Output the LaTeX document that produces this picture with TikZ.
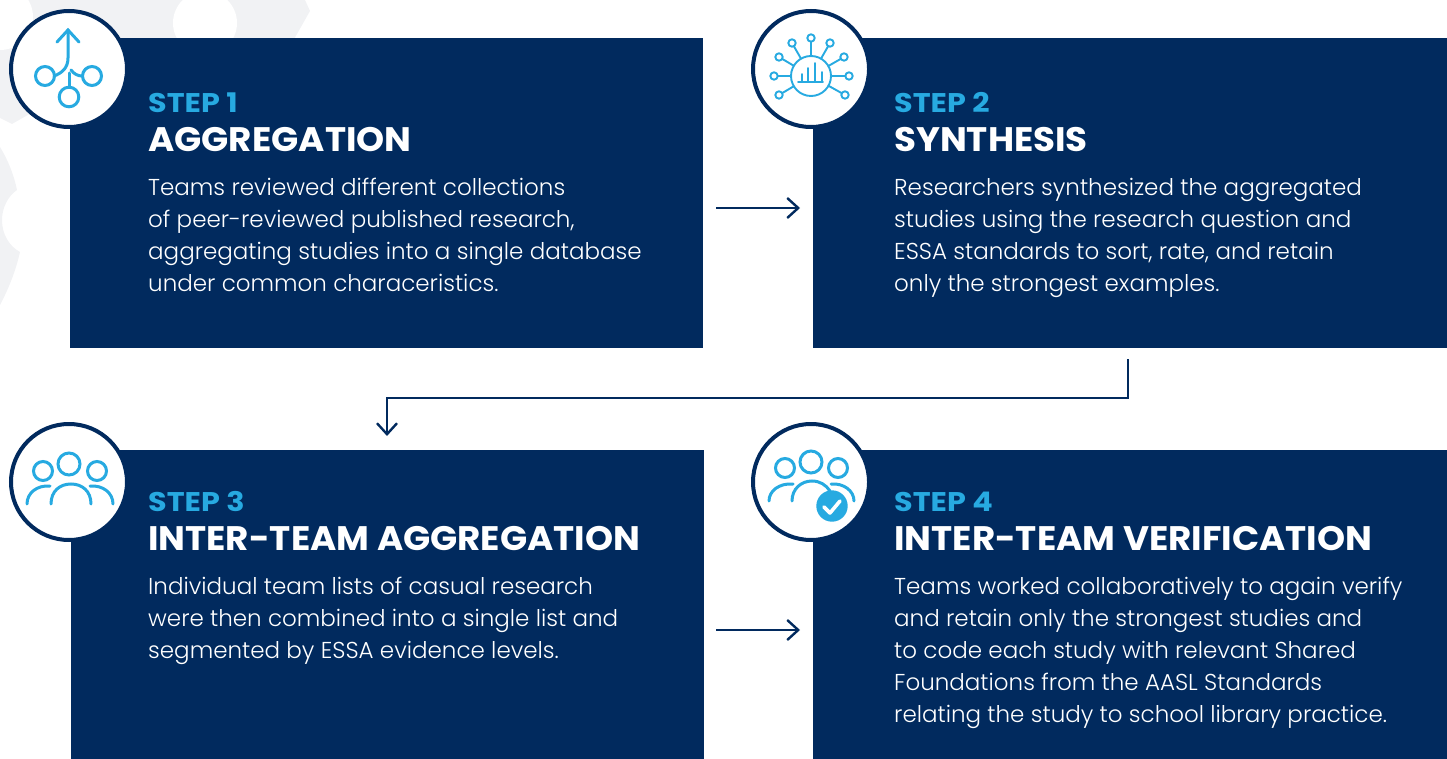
\documentclass[tikz,border=0pt]{standalone}
\usepackage{fontspec}
\usetikzlibrary{arrows.meta}
\newfontfamily\bodyfont{Poppins Light}
\newfontfamily\stepfont[FakeStretch=1.12]{Poppins Bold}
\newfontfamily\headfont[FakeStretch=1.05]{Poppins Bold}
\definecolor{navy}{HTML}{012A5E}
\definecolor{sky}{HTML}{27AAE1}
\definecolor{gearc}{HTML}{F1F2F4}
\tikzset{
 panel/.style={fill=navy,draw=none},
 badge/.style={circle,draw=navy,line width=4pt,fill=white,minimum size=116pt,inner sep=0pt},
 steplabel/.style={anchor=base west,inner sep=0pt,text=sky,font=\stepfont\fontsize{27}{30}\selectfont},
 titlelabel/.style={anchor=base west,inner sep=0pt,text=white,font=\headfont\fontsize{34}{36}\selectfont},
 bodytext/.style={anchor=north west,inner sep=0pt,text=white,align=left,font=\bodyfont\fontsize{23}{32}\selectfont},
 link/.style={draw=navy,line width=2.4pt,-{Straight Barb[length=11pt,width=20pt,line width=2.4pt]}},
 ico/.style={draw=sky,line width=3pt,line cap=round,fill=none},
 icothin/.style={draw=sky,line width=1.9pt,line cap=round,fill=none},
}
\begin{document}
\begin{tikzpicture}[x=1pt,y=-1pt]
\useasboundingbox (0,0) rectangle (1447,759);
% background gear
\fill[gearc] (0,0) -- (305,0) -- (310,11) -- (280,64) -- (40,108) -- (12,124) -- (0,118) -- cycle;
\fill[white] (205,23) circle (32);
\fill[white] (0,17) circle (33);
\fill[gearc] (0,147) .. controls (8,160) and (14,175) .. (17,190)
  .. controls (8,196) and (2,208) .. (2,220)
  .. controls (2,234) and (9,246) .. (20,252)
  .. controls (16,270) and (9,288) .. (0,305) -- cycle;
% panels
\fill[panel] (70,38) rectangle (703,348) node[pos=.5,inner sep=0pt] (p1) {};
\fill[panel] (813,38) rectangle (1447,348) node[pos=.5,inner sep=0pt] (p2) {};
\fill[panel] (71,450) rectangle (704,759) node[pos=.5,inner sep=0pt] (p3) {};
\fill[panel] (813,450) rectangle (1447,759) node[pos=.5,inner sep=0pt] (p4) {};
% badges
\node[badge] (b1) at (69,69) {};
\node[badge] (b2) at (811,69) {};
\node[badge] (b3) at (69,482) {};
\node[badge] (b4) at (811,482) {};
% icon 1
\draw[ico] (57,42) -- (68,30) -- (79,42);
\draw[ico] (68,30) -- (68,58) .. controls (68,68) and (62,73) .. (54,76);
\draw[ico] (71,70) .. controls (74,74) and (78,76) .. (82,76);
\draw[ico] (69,73) -- (69,87);
\draw[ico] (45,76) circle (9.5);
\draw[ico] (92,76) circle (9.5);
\draw[ico] (69,97) circle (9.8);
% icon 2
\draw[icothin] (811,76) circle (20);
\foreach \sx/\sy in {811/38,792/43,830/43,779/57,844/57,774/76,849/76,779/95,845/95}{
  \draw[icothin] (\sx,\sy) circle (3.7);
  \path (811,76) coordinate (hc) (\sx,\sy) coordinate (sc);
  \draw[icothin,shorten >=3.7pt,shorten <=20pt] (hc) -- (sc);
}
\draw[icothin] (798,82) -- (823,82);
\draw[icothin] (802,82) -- (802,74);
\draw[icothin] (808,82) -- (808,68);
\draw[icothin] (815,82) -- (815,63);
\draw[icothin] (822,82) -- (822,72);
% icon 3
\draw[ico] (69,464) circle (11);
\draw[ico] (43,471) circle (9.5);
\draw[ico] (97,471) circle (9.5);
\draw[ico] (51,504) .. controls (51,491) and (60,484) .. (71,484) .. controls (82,484) and (91,491) .. (91,504);
\draw[ico] (27,504) .. controls (27,493) and (37,485) .. (50,486);
\draw[ico] (113,504) .. controls (113,493) and (103,485) .. (90,486);
% icon 4
\draw[ico] (811,462) circle (11);
\draw[ico] (785,468) circle (9.5);
\draw[ico] (838,468) circle (9.5);
\draw[ico] (792,501) .. controls (792,489) and (801,481) .. (812,481) .. controls (820,481) and (826,485) .. (830,491);
\draw[ico] (769,501) .. controls (769,491) and (779,483) .. (793,484);
\draw[ico] (854,501) .. controls (854,491) and (844,483) .. (831,484);
\fill[sky] (832,506) circle (15.7);
\draw[white,line width=3.6pt,line cap=round,line join=round] (824,507) -- (830,513) -- (840,501);
% text 1
\node[steplabel] (s1) at (148,113) {STEP 1};
\node[titlelabel] (t1) at (148,152) {AGGREGATION};
\node[bodytext] (x1) at (148,178) {Teams reviewed different collections\\of peer-reviewed published research,\\aggregating studies into a single database\\under common characeristics.};
% text 2
\node[steplabel] (s2) at (894,113) {STEP 2};
\node[titlelabel] (t2) at (894,152) {SYNTHESIS};
\node[bodytext] (x2) at (894,178) {Researchers synthesized the aggregated\\studies using the research question and\\ESSA standards to sort, rate, and retain\\only the strongest examples.};
% text 3
\node[steplabel] (s3) at (148,511) {STEP 3};
\node[titlelabel] (t3) at (148,550) {INTER-TEAM AGGREGATION};
\node[bodytext] (x3) at (148,577) {Individual team lists of casual research\\were then combined into a single list and\\segmented by ESSA evidence levels.};
% text 4
\node[steplabel] (s4) at (894,511) {STEP 4};
\node[titlelabel] (t4) at (894,550) {INTER-TEAM VERIFICATION};
\node[bodytext] (x4) at (894,577) {Teams worked collaboratively to again verify\\and retain only the strongest studies and\\to code each study with relevant Shared\\Foundations from the AASL Standards\\relating the study to school library practice.};
% connectors
\coordinate (a1) at (716,208);
\coordinate (a2) at (800,208);
\coordinate (c1) at (1128,359);
\coordinate (c2) at (387,436);
\coordinate (d1) at (716,630);
\coordinate (d2) at (800,630);
\draw[link] (a1) -- (a2);
\draw[link] (c1) -- (1128,398) -- (387,398) -- (c2);
\draw[link] (d1) -- (d2);
\end{tikzpicture}
\end{document}
